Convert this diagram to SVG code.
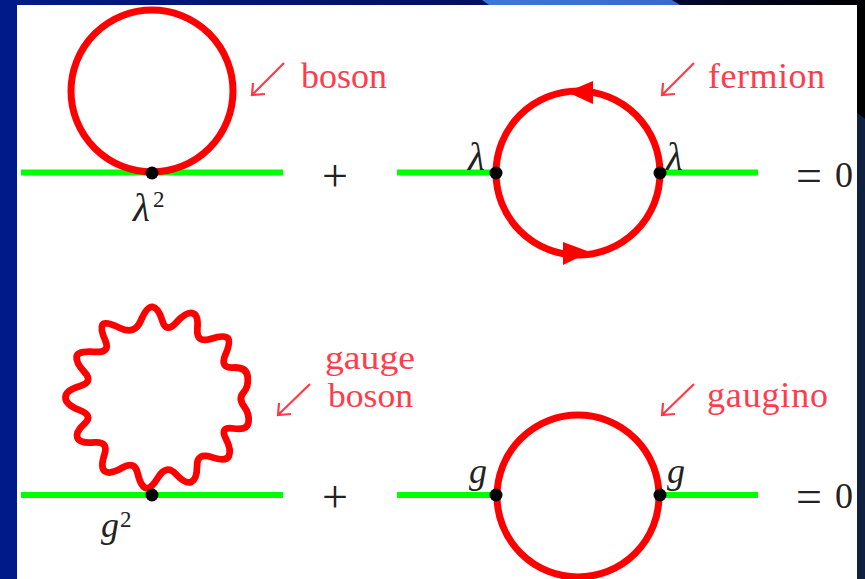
<svg xmlns="http://www.w3.org/2000/svg" width="865" height="579" viewBox="0 0 865 579">
<style>
.ln{fill:none;stroke:#ff0000;stroke-width:7}
.gr{fill:none;stroke:#00ff00;stroke-width:6}
.ar{fill:none;stroke:#ff3b4b;stroke-width:2.200}
.dot{fill:#000}
.lab{font-family:"Liberation Serif",serif;font-size:36px;fill:#ff3c4c}
.lab2{font-size:33px}
.math{font-family:"Liberation Serif",serif;font-size:36px;fill:#222}
.it{font-style:italic}
.lam{font-size:39px}
.sup{font-size:23px}
.op{font-size:46px}
</style>
<defs>
<linearGradient id="top" x1="0" x2="1" y1="0" y2="0"><stop offset="0" stop-color="#001a8a"/><stop offset="0.55" stop-color="#001060"/><stop offset="1" stop-color="#000"/></linearGradient>
<linearGradient id="tab" x1="0" x2="1" y1="0" y2="0"><stop offset="0" stop-color="#3f76dc"/><stop offset="1" stop-color="#3a68d0"/></linearGradient>
</defs>
<g id="background">
<rect width="865" height="579" fill="#001a8a"/>
<rect width="865" height="5" fill="url(#top)"/>
<path d="M482 0L489 5H680L672 0Z" fill="url(#tab)"/>
<path d="M857 0H865V119L857 113Z" fill="#000"/>
<path d="M857 113L865 119V579H857Z" fill="#12203f"/>
<rect x="17" y="5" width="840" height="574" fill="#fff"/>
</g>
<g id="connectors">
<path class="gr" d="M21 172.500H283"/>
<path class="gr" d="M397 172.500H496M660 172.500H758"/>
<path class="gr" d="M21 495H283"/>
<path class="gr" d="M397 495H496M660 495H758"/>
</g>
<g id="boson-loop"><circle class="ln" cx="152" cy="91" r="81"/><circle class="dot" cx="152" cy="173" r="6.500"/>
<path class="ar" d="M284 63L252 95M253 83L252 95L265 94"/>
<text class="lab" x="301" y="88">boson</text>
<text class="math it lam" x="133" y="221">λ</text><text class="math sup" x="153" y="207">2</text></g>
<g id="fermion-loop"><circle class="ln" cx="578" cy="173" r="82"/>
<path fill="#f00" d="M593 81L567 92L593 104Z"/><path fill="#f00" d="M563 242L590 252L563 265Z"/>
<circle class="dot" cx="496" cy="173" r="6.500"/><circle class="dot" cx="660" cy="173" r="6.500"/>
<path class="ar" d="M694 63L662 95M663 83L662 95L675 94"/>
<text class="lab" x="708" y="88" textLength="117">fermion</text>
<text class="math it lam" x="468" y="170">λ</text><text class="math it lam" x="666" y="170">λ</text></g>
<g id="gauge-loop">
<path transform="translate(4.700 293.200) scale(.3233)" fill="none" stroke="#f00" stroke-width="21" stroke-linejoin="round" d="M740,350 Q722,325 738.500,307.500 Q755,290 751.500,259 Q748,228 706.500,230 Q665,232 682.500,191 Q700,150 690,139 Q680,128 636,141.500 Q592,155 596,110 Q600,65 580,61.500 Q560,58 530,91.500 Q500,125 487.500,85 Q475,45 457.500,42.500 Q440,40 421,85 Q402,130 356,107.500 Q310,85 302.500,97.500 Q295,110 311.500,147.500 Q328,185 276.500,181.500 Q225,178 222.500,196.500 Q220,215 247.500,245 Q275,275 231.500,287.500 Q188,300 188,322.500 Q188,345 231.500,361.500 Q275,378 246.500,404 Q218,430 225,447.500 Q232,465 277,461.500 Q322,458 308.500,499 Q295,540 310,551 Q325,562 363.500,540 Q402,518 411,556.500 Q420,595 435,602.500 Q450,610 475,569 Q500,528 530,560 Q560,592 577.500,583.500 Q595,575 595,533.500 Q595,492 640,507 Q685,522 693.500,503.500 Q702,485 683.500,448.500 Q665,412 707.500,418.500 Q750,425 754,400 Q758,375 740,350 Z"/>
<circle class="dot" cx="152" cy="495" r="6.500"/>
<path class="ar" d="M310 384L278 415M279 403L278 415L291 414"/>
<text class="lab lab2" x="325" y="369" textLength="90" lengthAdjust="spacingAndGlyphs">gauge</text>
<text class="lab lab2" x="328" y="407" textLength="85" lengthAdjust="spacingAndGlyphs">boson</text>
<text class="math it" x="101" y="537">g</text><text class="math sup" x="120" y="527">2</text></g>
<g id="gaugino-loop"><circle class="ln" cx="578" cy="496" r="81"/>
<circle class="dot" cx="496" cy="495" r="6.500"/><circle class="dot" cx="660" cy="495" r="6.500"/>
<path class="ar" d="M694 384L662 415M663 403L662 415L675 414"/>
<text class="lab" x="707" y="407" textLength="121">gaugino</text>
<text class="math it" x="469" y="483">g</text><text class="math it" x="667" y="483">g</text></g>
<g id="equation-top"><text class="math op" x="322" y="191">+</text><text class="math op" x="796" y="191">=</text><text class="math" x="835" y="187">0</text></g>
<g id="equation-bottom"><text class="math op" x="322" y="512">+</text><text class="math op" x="796" y="512">=</text><text class="math" x="835" y="508">0</text></g>
</svg>
